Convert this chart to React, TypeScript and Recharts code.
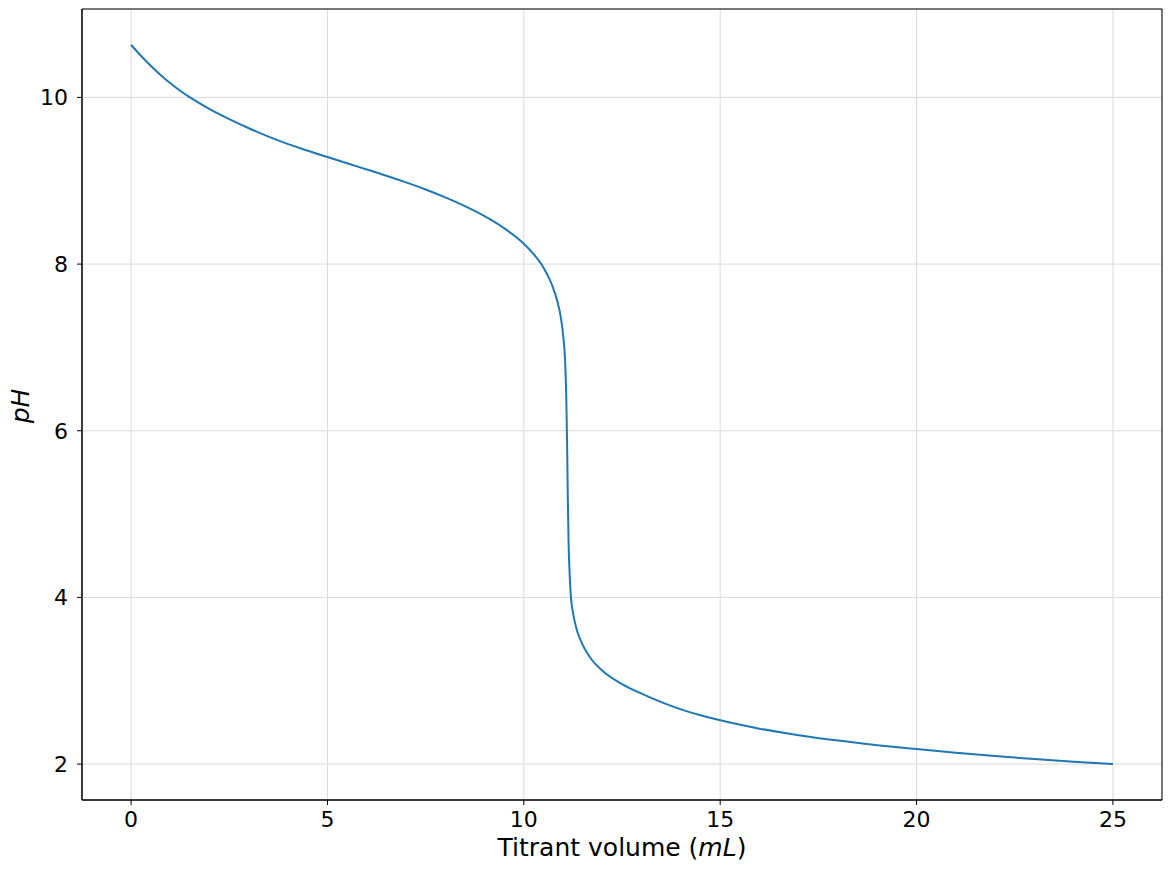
import { LineChart, Line, XAxis, YAxis, CartesianGrid, ReferenceArea, Label } from 'recharts';

const volume = [
  0, 0.25, 0.5, 0.75, 1.0, 1.25, 1.5, 2.0, 2.5, 3.0, 3.5, 4.0, 4.5, 5.0, 5.5, 6.0, 6.5, 7.0, 7.5, 8.0,
  8.5, 9.0, 9.5, 10.0, 10.25, 10.5, 10.7, 10.85, 10.95, 11.0, 11.05, 11.08, 11.1, 11.12, 11.14, 11.17,
  11.2, 11.25, 11.35, 11.5, 11.75, 12.0, 12.5, 13.0, 13.5, 14.0, 14.5, 15.0, 16.0, 17.0, 18.0, 19.0,
  20.0, 21.0, 22.0, 23.0, 24.0, 25.0,
];
const pH = [
  10.63, 10.5, 10.38, 10.27, 10.17, 10.08, 10.0, 9.86, 9.74, 9.63, 9.53, 9.44, 9.36, 9.285, 9.21,
  9.135, 9.06, 8.98, 8.895, 8.8, 8.695, 8.575, 8.43, 8.245, 8.12, 7.96, 7.77, 7.56, 7.34, 7.15, 6.85,
  6.42, 5.9, 5.2, 4.65, 4.25, 4.0, 3.82, 3.61, 3.43, 3.24, 3.12, 2.96, 2.845, 2.743, 2.657, 2.585, 2.525,
  2.425, 2.347, 2.282, 2.227, 2.18, 2.136, 2.096, 2.061, 2.029, 2.0,
];
const xTicks = [0, 5, 10, 15, 20, 25];
const yTicks = [2, 4, 6, 8, 10];

const X_DOMAIN: [number, number] = [-1.25, 26.25];
const Y_DOMAIN: [number, number] = [1.569, 11.061];

const FONT = 'DejaVu Sans, sans-serif';

export default function App() {
  const data = volume.map((v, i) => ({ v, ph: pH[i] }));

  return (
    <div style={{ position: 'absolute', left: 0, top: 0, width: 1172, height: 871, background: '#fff' }}>
      <LineChart width={1172} height={871} data={data} margin={{ top: 9, right: 10, left: 0, bottom: 0 }}>
        <CartesianGrid stroke="#dadada" strokeWidth={1} />
        <XAxis
          dataKey="v"
          type="number"
          domain={X_DOMAIN}
          ticks={xTicks}
          allowDataOverflow
          height={71}
          tickSize={5}
          tickMargin={6}
          tick={{ fill: '#000', fontSize: 22, fontFamily: FONT }}
          tickLine={{ stroke: '#000' }}
          axisLine={{ stroke: '#000' }}
        >
          <Label
            content={() => (
              <text x={622} y={856} textAnchor="middle" fontSize={25} fontFamily={FONT} fill="#000">
                Titrant volume (<tspan fontStyle="italic">mL</tspan>)
              </text>
            )}
          />
        </XAxis>
        <YAxis
          type="number"
          domain={Y_DOMAIN}
          ticks={yTicks}
          allowDataOverflow
          width={82}
          tickSize={5}
          tickMargin={9}
          tick={{ fill: '#000', fontSize: 22, fontFamily: FONT }}
          tickLine={{ stroke: '#000' }}
          axisLine={{ stroke: '#000' }}
        >
          <Label
            content={() => (
              <text
                x={29}
                y={406}
                transform="rotate(-90, 29, 406)"
                textAnchor="middle"
                fontSize={25}
                fontFamily={FONT}
                fontStyle="italic"
                fill="#000"
              >
                pH
              </text>
            )}
          />
        </YAxis>
        <ReferenceArea
          x1={X_DOMAIN[0]}
          x2={X_DOMAIN[1]}
          y1={Y_DOMAIN[0]}
          y2={Y_DOMAIN[1]}
          fill="none"
          fillOpacity={0}
          stroke="#000"
          strokeWidth={1}
          ifOverflow="visible"
        />
        <Line
          type="monotone"
          dataKey="ph"
          stroke="#1f77b4"
          strokeWidth={2}
          dot={false}
          activeDot={false}
          isAnimationActive={false}
        />
      </LineChart>
    </div>
  );
}
